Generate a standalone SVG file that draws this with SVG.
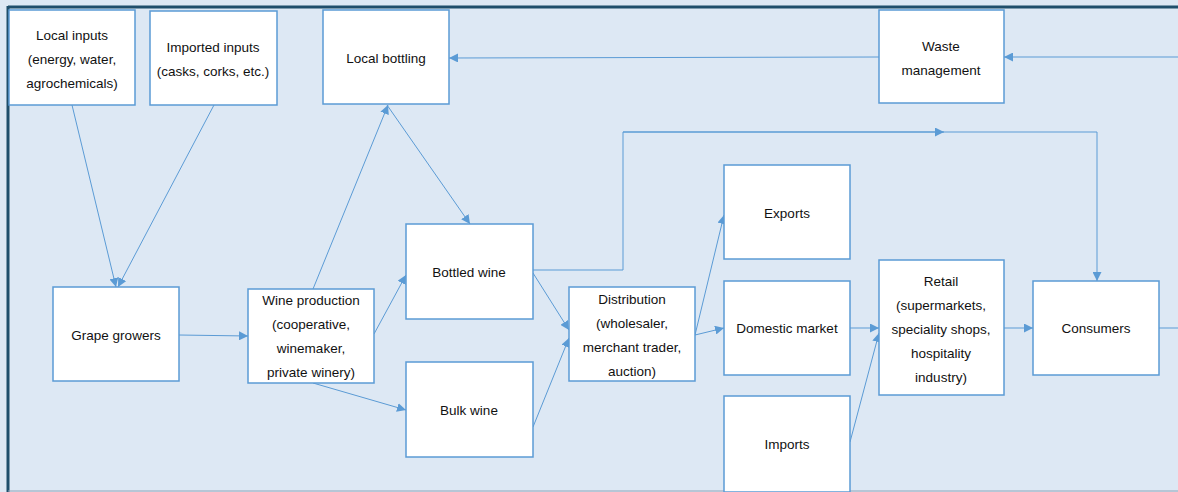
<svg xmlns="http://www.w3.org/2000/svg" width="1178" height="492" viewBox="0 0 1178 492">
<style>
.box{fill:#fff;stroke:#5b9bd5;stroke-width:1.5}
.t{font-family:"Liberation Sans",Arial,sans-serif;font-size:13.5px;fill:#111;text-anchor:middle}
.c{fill:none;stroke:#5b9bd5;stroke-width:1}
</style>
<defs>
<marker id="a" viewBox="0 0 10 10" refX="10" refY="5" markerWidth="9" markerHeight="9" markerUnits="userSpaceOnUse" orient="auto">
<path d="M0,0 L10,5 L0,10 z" fill="#5b9bd5"/>
</marker>
</defs>
<rect x="0" y="0" width="1178" height="492" fill="#dde8f4"/>
<line x1="8" y1="7" x2="1178" y2="7" stroke="#1f4e6b" stroke-width="3"/>
<line x1="8" y1="6" x2="8" y2="492" stroke="#1f4e6b" stroke-width="3"/>
<line x1="8" y1="491" x2="1178" y2="491" stroke="#8fa4b8" stroke-width="1"/>

<g id="connectors">
<line class="c" x1="72" y1="105" x2="116" y2="287" marker-end="url(#a)"/>
<line class="c" x1="214" y1="105" x2="118" y2="287" marker-end="url(#a)"/>
<line class="c" x1="179" y1="335" x2="248" y2="336" marker-end="url(#a)"/>
<line class="c" x1="313" y1="289" x2="388" y2="105" marker-end="url(#a)"/>
<line class="c" x1="387" y1="105" x2="470" y2="224" marker-end="url(#a)"/>
<line class="c" x1="374" y1="334" x2="406" y2="275" marker-end="url(#a)"/>
<line class="c" x1="313" y1="383" x2="406" y2="410" marker-end="url(#a)"/>
<polyline class="c" points="533,270 623,270 623,132 1097,132 1097,281" marker-end="url(#a)"/>
<line class="c" x1="623" y1="132" x2="944" y2="132" marker-end="url(#a)"/>
<line class="c" x1="533" y1="273" x2="569" y2="330" marker-end="url(#a)"/>
<line class="c" x1="533" y1="427" x2="569" y2="338" marker-end="url(#a)"/>
<line class="c" x1="695" y1="335" x2="724" y2="215" marker-end="url(#a)"/>
<line class="c" x1="695" y1="335" x2="724" y2="328" marker-end="url(#a)"/>
<line class="c" x1="850" y1="328" x2="879" y2="328" marker-end="url(#a)"/>
<line class="c" x1="850" y1="442" x2="879" y2="333" marker-end="url(#a)"/>
<line class="c" x1="1004" y1="328" x2="1033" y2="328" marker-end="url(#a)"/>
<line class="c" x1="1159" y1="328" x2="1178" y2="328"/>
<line class="c" x1="1178" y1="57" x2="1004" y2="57" marker-end="url(#a)"/>
<line class="c" x1="879" y1="57" x2="449" y2="58" marker-end="url(#a)"/>
</g>

<g id="local-inputs"><rect class="box" x="9" y="10" width="126" height="95"/>
<text class="t" x="72" y="40">Local inputs</text><text class="t" x="72" y="64">(energy, water,</text><text class="t" x="72" y="88">agrochemicals)</text></g>
<g id="imported-inputs"><rect class="box" x="150" y="11" width="127" height="94"/>
<text class="t" x="213" y="52">Imported inputs</text><text class="t" x="213" y="76">(casks, corks, etc.)</text></g>
<g id="local-bottling"><rect class="box" x="323" y="10" width="126" height="94"/>
<text class="t" x="386" y="63">Local bottling</text></g>
<g id="waste-management"><rect class="box" x="879" y="10" width="125" height="93"/>
<text class="t" x="941" y="51">Waste</text><text class="t" x="941" y="75">management</text></g>
<g id="grape-growers"><rect class="box" x="53" y="287" width="126" height="94"/>
<text class="t" x="116" y="340">Grape growers</text></g>
<g id="wine-production"><rect class="box" x="248" y="289" width="126" height="94"/>
<text class="t" x="311" y="305">Wine production</text><text class="t" x="311" y="329">(cooperative,</text><text class="t" x="311" y="353">winemaker,</text><text class="t" x="311" y="377">private winery)</text></g>
<g id="bottled-wine"><rect class="box" x="406" y="224" width="127" height="95"/>
<text class="t" x="469" y="277">Bottled wine</text></g>
<g id="bulk-wine"><rect class="box" x="406" y="362" width="127" height="95"/>
<text class="t" x="469" y="415">Bulk wine</text></g>
<g id="distribution"><rect class="box" x="569" y="287" width="126" height="94"/>
<text class="t" x="632" y="304">Distribution</text><text class="t" x="632" y="328">(wholesaler,</text><text class="t" x="632" y="352">merchant trader,</text><text class="t" x="632" y="376">auction)</text></g>
<g id="exports"><rect class="box" x="724" y="165" width="126" height="94"/>
<text class="t" x="787" y="218">Exports</text></g>
<g id="domestic-market"><rect class="box" x="724" y="281" width="126" height="94"/>
<text class="t" x="787" y="333">Domestic market</text></g>
<g id="imports"><rect class="box" x="724" y="396" width="126" height="96"/>
<text class="t" x="787" y="449">Imports</text></g>
<g id="retail"><rect class="box" x="879" y="260" width="125" height="135"/>
<text class="t" x="941" y="286">Retail</text><text class="t" x="941" y="310">(supermarkets,</text><text class="t" x="941" y="334">speciality shops,</text><text class="t" x="941" y="358">hospitality</text><text class="t" x="941" y="382">industry)</text></g>
<g id="consumers"><rect class="box" x="1033" y="281" width="126" height="94"/>
<text class="t" x="1096" y="333">Consumers</text></g>
</svg>
